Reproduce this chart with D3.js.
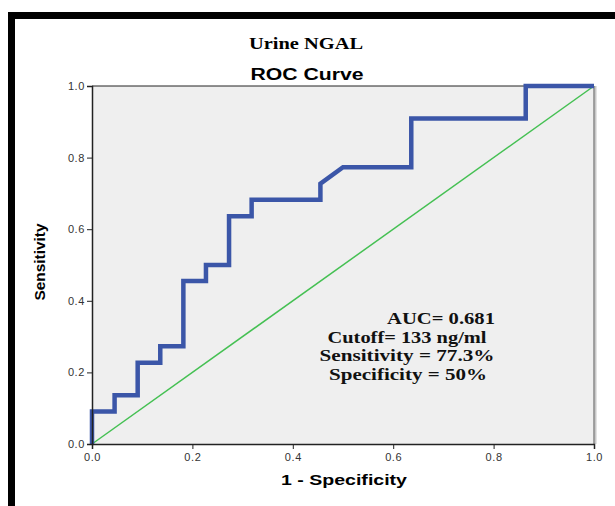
<!DOCTYPE html>
<html><head><meta charset="utf-8">
<script src="https://cdn.jsdelivr.net/npm/d3@7"></script>
<style>body{margin:0;background:#fff;}svg{display:block;}</style>
</head><body>
<script>
// ROC curve points (1 - Specificity, Sensitivity)
const fpr = [0, 0, 0.045, 0.045, 0.091, 0.091, 0.136, 0.136, 0.182, 0.182, 0.227, 0.227, 0.273, 0.273, 0.318, 0.318, 0.455, 0.455, 0.5, 0.636, 0.636, 0.864, 0.864, 1.0];
const tpr = [0, 0.091, 0.091, 0.136, 0.136, 0.227, 0.227, 0.273, 0.273, 0.455, 0.455, 0.5, 0.5, 0.636, 0.636, 0.682, 0.682, 0.727, 0.773, 0.773, 0.909, 0.909, 1.0, 1.0];
const refLine = [[0, 0], [1, 1]];
const ticks = [0, 0.2, 0.4, 0.6, 0.8, 1.0];
const annot = ["AUC= 0.681", "Cutoff= 133 ng/ml", "Sensitivity = 77.3%", "Specificity = 50%"];

const W = 615, H = 506;
const svg = d3.select("body").append("svg").attr("width", W).attr("height", H);

// outer frame
svg.append("rect").attr("x", 8).attr("y", 12).attr("width", W).attr("height", H).attr("fill", "#000");
svg.append("rect").attr("x", 15).attr("y", 19).attr("width", W).attr("height", H).attr("fill", "#fff");

const x0 = 92, x1 = 594, y0 = 444, y1 = 86;
const x = d3.scaleLinear().domain([0, 1]).range([x0, x1]);
const y = d3.scaleLinear().domain([0, 1]).range([y0, y1]);

svg.append("rect").attr("x", x0).attr("y", y1).attr("width", x1 - x0).attr("height", y0 - y1)
  .attr("fill", "#efefef");
// right shadow
svg.append("line").attr("x1", x1 + 1.5).attr("x2", x1 + 1.5).attr("y1", y1).attr("y2", y0)
  .attr("stroke", "#c8c8c8").attr("stroke-width", 2);
svg.append("line").attr("x1", x1).attr("x2", x1).attr("y1", y1).attr("y2", y0)
  .attr("stroke", "#555").attr("stroke-width", 1);
svg.append("line").attr("x1", x0).attr("x2", x1).attr("y1", y1).attr("y2", y1)
  .attr("stroke", "#222").attr("stroke-width", 1);

// reference diagonal
svg.append("path").datum(refLine)
  .attr("d", d3.line().x(d => x(d[0])).y(d => y(d[1])))
  .attr("fill", "none").attr("stroke", "#45c053").attr("stroke-width", 1.5);

// ROC curve
const pts = fpr.map((f, i) => [f, tpr[i]]);
svg.append("path").datum(pts)
  .attr("d", d3.line().x(d => x(d[0])).y(d => y(d[1])))
  .attr("fill", "none").attr("stroke", "#3b56a8").attr("stroke-width", 4.5)
  .attr("stroke-linejoin", "miter").attr("stroke-linecap", "butt");

// axes
const fmt = d3.format(".1f");
const gx = svg.append("g").attr("transform", `translate(0,${y0})`)
  .call(d3.axisBottom(x).tickValues(ticks).tickFormat(fmt).tickSize(5).tickPadding(4));
const gy = svg.append("g").attr("transform", `translate(${x0},0)`)
  .call(d3.axisLeft(y).tickValues(ticks).tickFormat(fmt).tickSize(5).tickPadding(2));
[gx, gy].forEach(g => {
  g.select(".domain").attr("stroke", "#222").attr("stroke-width", 1.5);
  g.selectAll(".tick line").attr("stroke", "#222");
  g.selectAll(".tick text").attr("fill", "#333").attr("font-family", "Liberation Sans, Arial, sans-serif")
    .attr("font-size", 11).attr("letter-spacing", 0.6);
});

// titles
svg.append("text").attr("x", 306).attr("y", 49).attr("text-anchor", "middle")
  .attr("font-family", "Liberation Serif, Times New Roman, serif").attr("font-weight", "bold")
  .attr("font-size", 16).attr("textLength", 114).attr("lengthAdjust", "spacingAndGlyphs").text("Urine NGAL");
svg.append("text").attr("x", 307).attr("y", 80).attr("text-anchor", "middle")
  .attr("font-family", "Liberation Sans, Arial, sans-serif").attr("font-weight", "bold")
  .attr("font-size", 16).attr("textLength", 113).attr("lengthAdjust", "spacingAndGlyphs").text("ROC Curve");
svg.append("text").attr("x", 344).attr("y", 485).attr("text-anchor", "middle")
  .attr("font-family", "Liberation Sans, Arial, sans-serif").attr("font-weight", "bold")
  .attr("font-size", 14).attr("textLength", 126).attr("lengthAdjust", "spacingAndGlyphs").text("1 - Specificity");
svg.append("text").attr("transform", "translate(45,262) rotate(-90)").attr("text-anchor", "middle")
  .attr("font-family", "Liberation Sans Narrow, Arial Narrow, sans-serif").attr("font-weight", "bold")
  .attr("font-size", 14).attr("textLength", 77).attr("lengthAdjust", "spacingAndGlyphs").text("Sensitivity");

// annotation
const ax = [441, 407, 407, 408], ay = [324, 343, 361, 380], aw = [108, 159, 175, 158];
annot.forEach((t, i) => {
  svg.append("text").attr("x", ax[i]).attr("y", ay[i]).attr("text-anchor", "middle")
    .attr("font-family", "Liberation Serif, Times New Roman, serif").attr("font-weight", "bold")
    .attr("font-size", 16).attr("fill", "#111")
    .attr("textLength", aw[i]).attr("lengthAdjust", "spacingAndGlyphs").text(t);
});
</script>
</body></html>
